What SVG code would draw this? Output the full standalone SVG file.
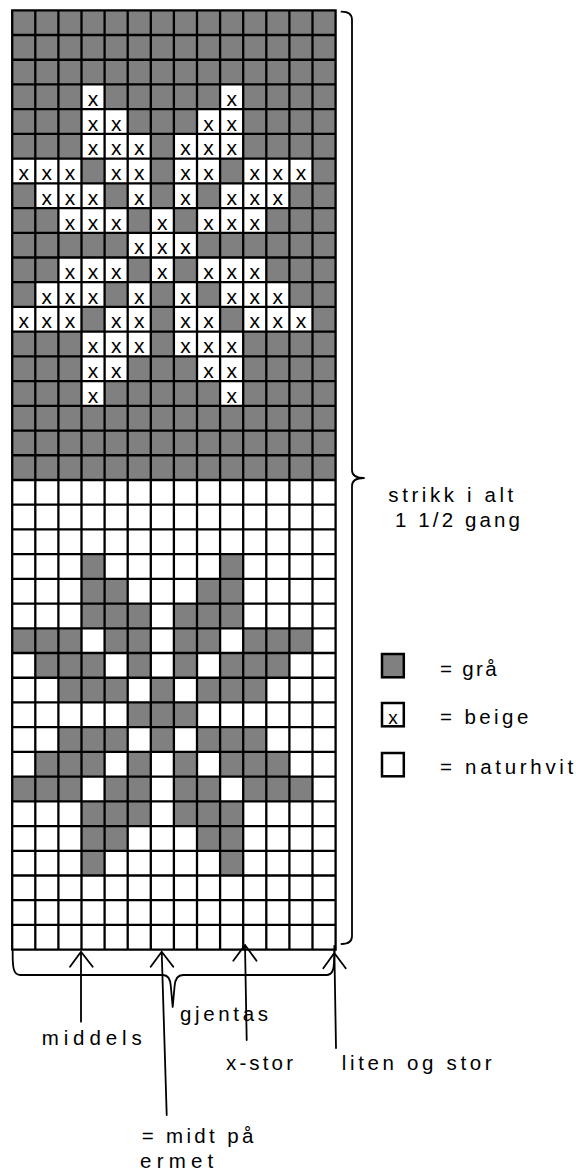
<svg xmlns="http://www.w3.org/2000/svg" xmlns:xlink="http://www.w3.org/1999/xlink" width="576" height="1171" viewBox="0 0 576 1171">
<style>
.lbl{font-family:"Liberation Sans",Arial,sans-serif;font-size:20.5px;fill:#000}
.xm{font-family:"Liberation Sans",Arial,sans-serif;font-size:21px;fill:#000;text-anchor:middle}
.grid{fill:none;stroke:#000;stroke-width:2.3}
.con{fill:none;stroke:#000;stroke-width:1.8;stroke-linecap:round;stroke-linejoin:round}
.leg{stroke:#000;stroke-width:2.5}
</style>
<defs>
<g id="bx"><rect width="23.1" height="24.72" fill="#fff"/><text class="xm" x="11.55" y="21.5">x</text></g>
<rect id="gc" width="23.1" height="24.72" fill="#808080"/>
</defs>
<rect width="576" height="1171" fill="#fff"/>
<g id="chart">
<rect x="12.2" y="10.3" width="323.4" height="469.68" fill="#808080"/>
<g id="beige-cells">
<use xlink:href="#bx" x="81.5" y="84.46"/><use xlink:href="#bx" x="220.1" y="84.46"/>
<use xlink:href="#bx" x="81.5" y="109.18"/><use xlink:href="#bx" x="104.6" y="109.18"/><use xlink:href="#bx" x="197" y="109.18"/><use xlink:href="#bx" x="220.1" y="109.18"/>
<use xlink:href="#bx" x="81.5" y="133.9"/><use xlink:href="#bx" x="104.6" y="133.9"/><use xlink:href="#bx" x="127.7" y="133.9"/><use xlink:href="#bx" x="173.9" y="133.9"/><use xlink:href="#bx" x="197" y="133.9"/><use xlink:href="#bx" x="220.1" y="133.9"/>
<use xlink:href="#bx" x="12.2" y="158.62"/><use xlink:href="#bx" x="35.3" y="158.62"/><use xlink:href="#bx" x="58.4" y="158.62"/><use xlink:href="#bx" x="104.6" y="158.62"/><use xlink:href="#bx" x="127.7" y="158.62"/><use xlink:href="#bx" x="173.9" y="158.62"/><use xlink:href="#bx" x="197" y="158.62"/><use xlink:href="#bx" x="243.2" y="158.62"/><use xlink:href="#bx" x="266.3" y="158.62"/><use xlink:href="#bx" x="289.4" y="158.62"/>
<use xlink:href="#bx" x="35.3" y="183.34"/><use xlink:href="#bx" x="58.4" y="183.34"/><use xlink:href="#bx" x="81.5" y="183.34"/><use xlink:href="#bx" x="127.7" y="183.34"/><use xlink:href="#bx" x="173.9" y="183.34"/><use xlink:href="#bx" x="220.1" y="183.34"/><use xlink:href="#bx" x="243.2" y="183.34"/><use xlink:href="#bx" x="266.3" y="183.34"/>
<use xlink:href="#bx" x="58.4" y="208.06"/><use xlink:href="#bx" x="81.5" y="208.06"/><use xlink:href="#bx" x="104.6" y="208.06"/><use xlink:href="#bx" x="150.8" y="208.06"/><use xlink:href="#bx" x="197" y="208.06"/><use xlink:href="#bx" x="220.1" y="208.06"/><use xlink:href="#bx" x="243.2" y="208.06"/>
<use xlink:href="#bx" x="127.7" y="232.78"/><use xlink:href="#bx" x="150.8" y="232.78"/><use xlink:href="#bx" x="173.9" y="232.78"/>
<use xlink:href="#bx" x="58.4" y="257.5"/><use xlink:href="#bx" x="81.5" y="257.5"/><use xlink:href="#bx" x="104.6" y="257.5"/><use xlink:href="#bx" x="150.8" y="257.5"/><use xlink:href="#bx" x="197" y="257.5"/><use xlink:href="#bx" x="220.1" y="257.5"/><use xlink:href="#bx" x="243.2" y="257.5"/>
<use xlink:href="#bx" x="35.3" y="282.22"/><use xlink:href="#bx" x="58.4" y="282.22"/><use xlink:href="#bx" x="81.5" y="282.22"/><use xlink:href="#bx" x="127.7" y="282.22"/><use xlink:href="#bx" x="173.9" y="282.22"/><use xlink:href="#bx" x="220.1" y="282.22"/><use xlink:href="#bx" x="243.2" y="282.22"/><use xlink:href="#bx" x="266.3" y="282.22"/>
<use xlink:href="#bx" x="12.2" y="306.94"/><use xlink:href="#bx" x="35.3" y="306.94"/><use xlink:href="#bx" x="58.4" y="306.94"/><use xlink:href="#bx" x="104.6" y="306.94"/><use xlink:href="#bx" x="127.7" y="306.94"/><use xlink:href="#bx" x="173.9" y="306.94"/><use xlink:href="#bx" x="197" y="306.94"/><use xlink:href="#bx" x="243.2" y="306.94"/><use xlink:href="#bx" x="266.3" y="306.94"/><use xlink:href="#bx" x="289.4" y="306.94"/>
<use xlink:href="#bx" x="81.5" y="331.66"/><use xlink:href="#bx" x="104.6" y="331.66"/><use xlink:href="#bx" x="127.7" y="331.66"/><use xlink:href="#bx" x="173.9" y="331.66"/><use xlink:href="#bx" x="197" y="331.66"/><use xlink:href="#bx" x="220.1" y="331.66"/>
<use xlink:href="#bx" x="81.5" y="356.38"/><use xlink:href="#bx" x="104.6" y="356.38"/><use xlink:href="#bx" x="197" y="356.38"/><use xlink:href="#bx" x="220.1" y="356.38"/>
<use xlink:href="#bx" x="81.5" y="381.1"/><use xlink:href="#bx" x="220.1" y="381.1"/>
</g>
<g id="grey-cells">
<use xlink:href="#gc" x="81.5" y="554.14"/><use xlink:href="#gc" x="220.1" y="554.14"/>
<use xlink:href="#gc" x="81.5" y="578.86"/><use xlink:href="#gc" x="104.6" y="578.86"/><use xlink:href="#gc" x="197" y="578.86"/><use xlink:href="#gc" x="220.1" y="578.86"/>
<use xlink:href="#gc" x="81.5" y="603.58"/><use xlink:href="#gc" x="104.6" y="603.58"/><use xlink:href="#gc" x="127.7" y="603.58"/><use xlink:href="#gc" x="173.9" y="603.58"/><use xlink:href="#gc" x="197" y="603.58"/><use xlink:href="#gc" x="220.1" y="603.58"/>
<use xlink:href="#gc" x="12.2" y="628.3"/><use xlink:href="#gc" x="35.3" y="628.3"/><use xlink:href="#gc" x="58.4" y="628.3"/><use xlink:href="#gc" x="104.6" y="628.3"/><use xlink:href="#gc" x="127.7" y="628.3"/><use xlink:href="#gc" x="173.9" y="628.3"/><use xlink:href="#gc" x="197" y="628.3"/><use xlink:href="#gc" x="243.2" y="628.3"/><use xlink:href="#gc" x="266.3" y="628.3"/><use xlink:href="#gc" x="289.4" y="628.3"/>
<use xlink:href="#gc" x="35.3" y="653.02"/><use xlink:href="#gc" x="58.4" y="653.02"/><use xlink:href="#gc" x="81.5" y="653.02"/><use xlink:href="#gc" x="127.7" y="653.02"/><use xlink:href="#gc" x="173.9" y="653.02"/><use xlink:href="#gc" x="220.1" y="653.02"/><use xlink:href="#gc" x="243.2" y="653.02"/><use xlink:href="#gc" x="266.3" y="653.02"/>
<use xlink:href="#gc" x="58.4" y="677.74"/><use xlink:href="#gc" x="81.5" y="677.74"/><use xlink:href="#gc" x="104.6" y="677.74"/><use xlink:href="#gc" x="150.8" y="677.74"/><use xlink:href="#gc" x="197" y="677.74"/><use xlink:href="#gc" x="220.1" y="677.74"/><use xlink:href="#gc" x="243.2" y="677.74"/>
<use xlink:href="#gc" x="127.7" y="702.46"/><use xlink:href="#gc" x="150.8" y="702.46"/><use xlink:href="#gc" x="173.9" y="702.46"/>
<use xlink:href="#gc" x="58.4" y="727.18"/><use xlink:href="#gc" x="81.5" y="727.18"/><use xlink:href="#gc" x="104.6" y="727.18"/><use xlink:href="#gc" x="150.8" y="727.18"/><use xlink:href="#gc" x="197" y="727.18"/><use xlink:href="#gc" x="220.1" y="727.18"/><use xlink:href="#gc" x="243.2" y="727.18"/>
<use xlink:href="#gc" x="35.3" y="751.9"/><use xlink:href="#gc" x="58.4" y="751.9"/><use xlink:href="#gc" x="81.5" y="751.9"/><use xlink:href="#gc" x="127.7" y="751.9"/><use xlink:href="#gc" x="173.9" y="751.9"/><use xlink:href="#gc" x="220.1" y="751.9"/><use xlink:href="#gc" x="243.2" y="751.9"/><use xlink:href="#gc" x="266.3" y="751.9"/>
<use xlink:href="#gc" x="12.2" y="776.62"/><use xlink:href="#gc" x="35.3" y="776.62"/><use xlink:href="#gc" x="58.4" y="776.62"/><use xlink:href="#gc" x="104.6" y="776.62"/><use xlink:href="#gc" x="127.7" y="776.62"/><use xlink:href="#gc" x="173.9" y="776.62"/><use xlink:href="#gc" x="197" y="776.62"/><use xlink:href="#gc" x="243.2" y="776.62"/><use xlink:href="#gc" x="266.3" y="776.62"/><use xlink:href="#gc" x="289.4" y="776.62"/>
<use xlink:href="#gc" x="81.5" y="801.34"/><use xlink:href="#gc" x="104.6" y="801.34"/><use xlink:href="#gc" x="127.7" y="801.34"/><use xlink:href="#gc" x="173.9" y="801.34"/><use xlink:href="#gc" x="197" y="801.34"/><use xlink:href="#gc" x="220.1" y="801.34"/>
<use xlink:href="#gc" x="81.5" y="826.06"/><use xlink:href="#gc" x="104.6" y="826.06"/><use xlink:href="#gc" x="197" y="826.06"/><use xlink:href="#gc" x="220.1" y="826.06"/>
<use xlink:href="#gc" x="81.5" y="850.78"/><use xlink:href="#gc" x="220.1" y="850.78"/>
</g>
<path class="grid" d="M12.2 10.3V949.66M35.3 10.3V949.66M58.4 10.3V949.66M81.5 10.3V949.66M104.6 10.3V949.66M127.7 10.3V949.66M150.8 10.3V949.66M173.9 10.3V949.66M197 10.3V949.66M220.1 10.3V949.66M243.2 10.3V949.66M266.3 10.3V949.66M289.4 10.3V949.66M312.5 10.3V949.66M335.6 10.3V949.66
M11.05 10.3H336.75M12.2 35.02H335.6M12.2 59.74H335.6M12.2 84.46H335.6M12.2 109.18H335.6M12.2 133.9H335.6M12.2 158.62H335.6M12.2 183.34H335.6M12.2 208.06H335.6M12.2 232.78H335.6M12.2 257.5H335.6M12.2 282.22H335.6M12.2 306.94H335.6M12.2 331.66H335.6M12.2 356.38H335.6M12.2 381.1H335.6M12.2 405.82H335.6M12.2 430.54H335.6M12.2 455.26H335.6M12.2 479.98H335.6M12.2 504.7H335.6M12.2 529.42H335.6M12.2 554.14H335.6M12.2 578.86H335.6M12.2 603.58H335.6M12.2 628.3H335.6M12.2 653.02H335.6M12.2 677.74H335.6M12.2 702.46H335.6M12.2 727.18H335.6M12.2 751.9H335.6M12.2 776.62H335.6M12.2 801.34H335.6M12.2 826.06H335.6M12.2 850.78H335.6M12.2 875.5H335.6M12.2 900.22H335.6M12.2 924.94H335.6M11.05 949.66H336.75"/>
</g>
<g id="connectors">
<path class="con" d="M341.5 11.7Q352 11.7 352 20L352 470Q352 478 364 478M352 486Q352 478 364 478M352 486L352 936Q352 944 341.5 944"/>
<path class="con" d="M12.7 951C12.5 966 13 975 20 975L163 975Q170 975 170.8 986L172.7 1007L174.6 986Q175.5 975 183 975L327 975Q333.5 975 334 963L334.5 951"/>
<path class="con" d="M81 1021.7L81 951.7M70 966.7L81 951.7L92.7 966.7"/>
<path class="con" d="M166.7 1115L161.7 951.7M150.7 966.7L161.7 951.7L173.3 966.7"/>
<path class="con" d="M246.7 1040L245 945M233.3 960.7L245 945L256.5 960.7"/>
<path class="con" d="M336 1048L334.3 946M323.3 968.3L334.3 953L345.7 968.3"/>
</g>
<g id="label-strikk"><text class="lbl" x="388.3" y="501.7" textLength="125" lengthAdjust="spacing">strikk i alt</text><text class="lbl" x="395" y="526.7" textLength="125" lengthAdjust="spacing">1 1/2 gang</text></g>
<g id="legend-graa"><rect class="leg" x="382" y="654" width="21.8" height="23.3" fill="#808080"/><text class="lbl" x="440" y="676" textLength="56.7" lengthAdjust="spacing">= grå</text></g>
<g id="legend-beige"><rect class="leg" x="382" y="703" width="21.8" height="23.3" fill="#fff"/><text class="xm" x="393" y="723.5" style="font-size:19px">x</text><text class="lbl" x="440" y="724" textLength="88.3" lengthAdjust="spacing">= beige</text></g>
<g id="legend-naturhvit"><rect class="leg" x="382" y="753" width="21.8" height="23.3" fill="#fff"/><text class="lbl" x="440" y="774" textLength="133.3" lengthAdjust="spacing">= naturhvit</text></g>
<g id="label-middels"><text class="lbl" x="41.7" y="1045" textLength="100" lengthAdjust="spacing">middels</text></g>
<g id="label-gjentas"><text class="lbl" x="180" y="1021" textLength="88" lengthAdjust="spacing">gjentas</text></g>
<g id="label-xstor"><text class="lbl" x="226" y="1070" textLength="67" lengthAdjust="spacing">x-stor</text></g>
<g id="label-liten"><text class="lbl" x="341.7" y="1070" textLength="150" lengthAdjust="spacing">liten og stor</text></g>
<g id="label-midt"><text class="lbl" x="141.7" y="1143.3" textLength="111.6" lengthAdjust="spacing">= midt på</text><text class="lbl" x="140" y="1168.3" textLength="73.3" lengthAdjust="spacing">ermet</text></g>
</svg>
